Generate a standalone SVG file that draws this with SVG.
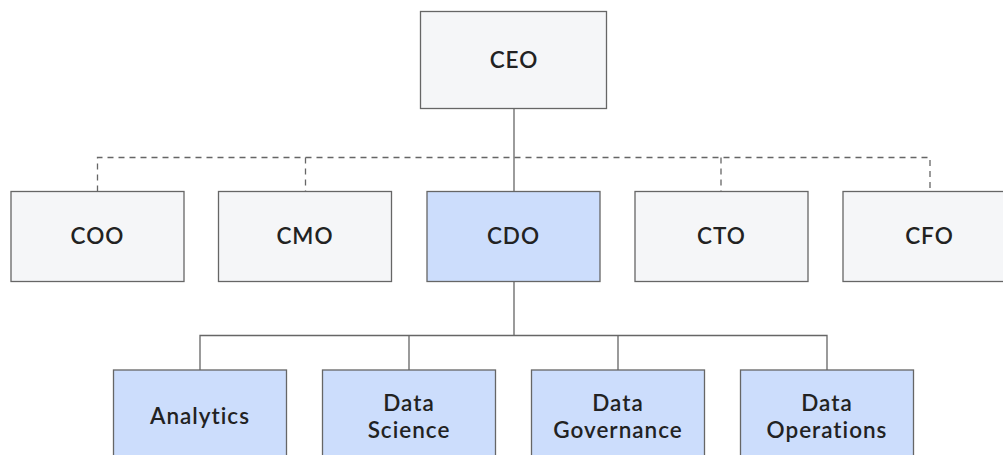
<svg xmlns="http://www.w3.org/2000/svg" width="1003" height="455" viewBox="0 0 1003 455">
<style>
.box{fill:#f5f6f8;stroke:#666;stroke-width:1.3}
.blue{fill:#ccddfc;stroke:#666;stroke-width:1.3}
.t{font-family:"Lato","Inter","Liberation Sans",sans-serif;font-size:22.5px;font-weight:600;fill:#222;text-anchor:middle;dominant-baseline:central;letter-spacing:1px}
.ln{fill:none;stroke:#666;stroke-width:1.3}
.dash{fill:none;stroke:#666;stroke-width:1.3;stroke-dasharray:6 5}
</style>
<rect width="1003" height="455" fill="#ffffff"/>
<g id="connectors">
<path class="ln" d="M514 108.5V191.5"/>
<path class="dash" d="M97.5 191.5V157.5H930V191.5M305.5 157.5V191.5M721 157.5V191.5"/>
<path class="ln" d="M514 281.5V335.5M200 370V335.5H827V370M409 335.5V370M618 335.5V370"/>
</g>
<g id="ceo"><rect class="box" x="420.5" y="11.5" width="186" height="97"/><text class="t" x="514" y="59">CEO</text></g>
<g id="coo"><rect class="box" x="11" y="191.5" width="173" height="90"/><text class="t" x="97.5" y="235">COO</text></g>
<g id="cmo"><rect class="box" x="218.5" y="191.5" width="173" height="90"/><text class="t" x="305" y="235">CMO</text></g>
<g id="cdo"><rect class="blue" x="427" y="191.5" width="173" height="90"/><text class="t" x="513.5" y="235">CDO</text></g>
<g id="cto"><rect class="box" x="635" y="191.5" width="173" height="90"/><text class="t" x="721.5" y="235">CTO</text></g>
<g id="cfo"><rect class="box" x="843" y="191.5" width="173" height="90"/><text class="t" x="929.5" y="235">CFO</text></g>
<g id="analytics"><rect class="blue" x="113.5" y="370" width="173" height="90"/><text class="t" x="200" y="415.5">Analytics</text></g>
<g id="data-science"><rect class="blue" x="322.5" y="370" width="173" height="90"/><text class="t" x="409" y="402">Data</text><text class="t" x="409" y="429">Science</text></g>
<g id="data-governance"><rect class="blue" x="531.5" y="370" width="173" height="90"/><text class="t" x="618" y="402">Data</text><text class="t" x="618" y="429">Governance</text></g>
<g id="data-operations"><rect class="blue" x="740.5" y="370" width="173" height="90"/><text class="t" x="827" y="402">Data</text><text class="t" x="827" y="429">Operations</text></g>
</svg>
